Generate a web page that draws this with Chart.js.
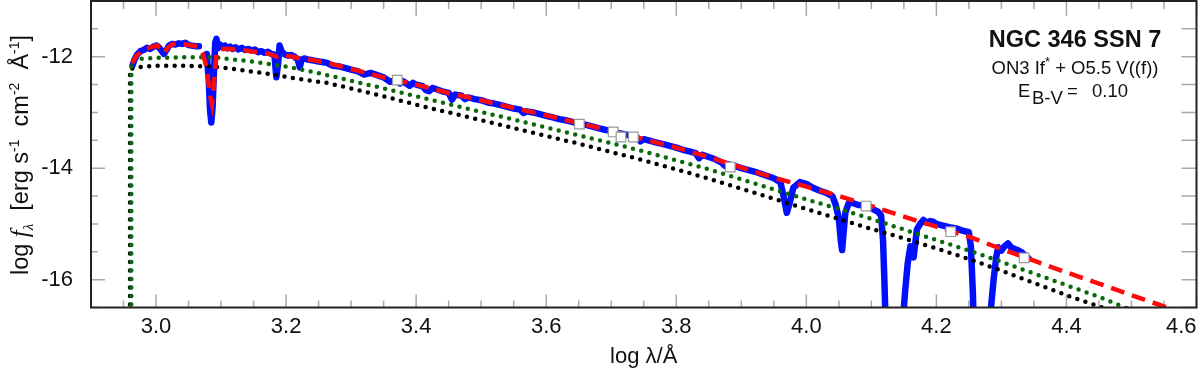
<!DOCTYPE html>
<html><head><meta charset="utf-8">
<script src="https://cdn.jsdelivr.net/npm/chart.js@4/dist/chart.umd.min.js"></script>
<style>html,body{margin:0;padding:0;background:#fff;}canvas{display:block;}</style>
</head><body>
<canvas id="c" width="1200" height="373"></canvas>
<script>
// ---------- tick labels ----------
const xMajorTicks = [3.0, 3.2, 3.4, 3.6, 3.8, 4.0, 4.2, 4.4, 4.6];
const xMinorTicks = [2.9, 2.95, 3.0, 3.05, 3.1, 3.15, 3.2, 3.25, 3.3, 3.35, 3.4, 3.45, 3.5, 3.55, 3.6, 3.65, 3.7, 3.75, 3.8, 3.85, 3.9, 3.95, 4.0, 4.05, 4.1, 4.15, 4.2, 4.25, 4.3, 4.35, 4.4, 4.45, 4.5, 4.55, 4.6];
const yMajorTicks = [-16, -14, -12];
const yMinorTicks = [-16.5, -16, -15.5, -15, -14.5, -14, -13.5, -13, -12.5, -12, -11.5, -11];

// ---------- observed spectrum (blue) ----------
const obsLogLam = [2.964,2.967,2.971,2.976,2.981,2.986,2.991,2.996,3.001,3.005,3.009,3.012,3.016,3.020,3.025,3.030,3.035,3.040,3.045,3.050,3.055,3.060,3.066,
 3.072,
 3.078,3.081,3.083,3.085,3.087,3.089,3.091,3.093,3.095,3.098,3.102,3.106,3.110,3.114,3.118,3.122,3.127,3.132,3.137,3.142,3.147,3.152,3.157,3.162,3.167,3.172,3.177,3.182,3.185,3.188,3.190,3.193,3.198,3.203,3.208,3.213,3.218,3.221,3.224,3.228,3.233,3.238,3.243,3.248,3.253,3.258,3.263,3.268,3.272,
 3.28,3.29,3.30,3.31,3.32,3.33,3.34,3.35,3.36,3.37,3.375,3.38,3.39,3.395,3.40,3.41,3.415,3.42,3.425,3.43,3.44,3.45,3.455,3.46,3.47,3.475,3.48,3.49,3.50,3.51,3.52,3.53,3.54,3.55,3.56,3.565,3.57,3.58,3.59,3.60,3.61,3.62,3.63,3.64,3.65,3.66,3.67,3.68,3.69,3.70,3.71,3.72,3.73,3.74,3.745,3.75,3.76,3.77,3.78,3.79,3.80,3.81,3.82,3.83,3.835,3.84,3.85,3.86,3.87,3.875,3.88,3.89,3.90,3.91,3.92,3.93,3.94,3.95,3.96,3.965,3.970,3.975,3.98,3.99,4.00,4.01,4.02,4.03,4.04,4.045,4.05,4.053,4.055,4.057,4.06,4.065,4.07,4.08,4.09,4.10,4.11,4.115,4.118,4.12,4.122,4.13,4.14,4.148,4.152,4.156,4.16,4.165,4.17,4.175,4.18,4.185,4.19,4.195,4.20,4.21,4.22,4.23,4.24,4.25,4.253,4.256,4.258,4.28,4.284,4.288,4.292,4.295,4.30,4.305,4.31,4.315,4.32,4.325,4.33,4.335,4.342];
const obsLogF = [-12.15,-12.05,-11.96,-11.90,-11.88,-11.84,-11.86,-11.82,-11.80,-11.84,-11.90,-11.95,-11.88,-11.80,-11.77,-11.78,-11.76,-11.77,-11.75,-11.79,-11.80,-11.81,-11.81,
 null,
 -11.95,-12.40,-12.95,-13.18,-12.90,-12.30,-11.75,-11.68,-11.85,-11.78,-11.82,-11.80,-11.85,-11.82,-11.86,-11.83,-11.87,-11.84,-11.88,-11.86,-11.89,-11.87,-11.92,-11.90,-11.93,-11.91,-11.95,-11.96,-12.37,-12.10,-11.80,-11.90,-11.96,-11.98,-11.97,-12.00,-12.05,-12.19,-12.05,-12.03,-12.05,-12.06,-12.07,-12.08,-12.09,-12.10,-12.11,-12.14,-12.16,
 -12.17,-12.20,-12.23,-12.26,-12.32,-12.29,-12.33,-12.37,-12.45,-12.41,-12.48,-12.44,-12.52,-12.47,-12.50,-12.53,-12.60,-12.62,-12.56,-12.58,-12.62,-12.65,-12.77,-12.68,-12.70,-12.76,-12.73,-12.76,-12.78,-12.82,-12.84,-12.87,-12.90,-12.93,-12.95,-13.01,-12.98,-13.00,-13.03,-13.06,-13.09,-13.12,-13.14,-13.17,-13.20,-13.22,-13.25,-13.28,-13.31,-13.33,-13.37,-13.39,-13.42,-13.45,-13.52,-13.48,-13.51,-13.54,-13.57,-13.60,-13.63,-13.67,-13.70,-13.73,-13.82,-13.76,-13.80,-13.84,-13.90,-13.96,-13.93,-13.96,-14.00,-14.03,-14.06,-14.10,-14.14,-14.18,-14.25,-14.50,-14.80,-14.60,-14.35,-14.25,-14.28,-14.35,-14.40,-14.44,-14.50,-14.65,-14.90,-15.30,-15.47,-15.20,-14.80,-14.63,-14.62,-14.66,-14.67,-14.72,-14.78,-14.85,-15.30,-16.00,-16.80,-17.00,-17.00,-16.80,-16.20,-15.70,-15.40,-15.60,-15.10,-15.00,-14.93,-14.98,-14.95,-14.96,-15.00,-15.03,-15.06,-15.08,-15.12,-15.15,-15.40,-16.20,-17.00,-17.00,-16.50,-16.00,-15.60,-15.42,-15.48,-15.40,-15.35,-15.42,-15.45,-15.47,-15.50,-15.55,-15.62];

// ---------- reddened model (red dashed) ----------
const modelLogLam = [2.963,2.970,2.978,2.986,2.995,3.002,3.008,3.012,3.018,3.026,3.035,3.045,3.055,3.065,3.072,3.078,3.083,3.086,3.089,3.093,3.100,3.115,3.130,3.145,3.160,3.175,3.186,3.195,3.210,3.225,3.240,3.255,3.270,3.300,3.350,3.400,3.450,3.500,3.550,3.600,3.650,3.700,3.750,3.800,3.850,3.900,3.950,4.000,4.050,4.100,4.150,4.200,4.250,4.300,4.350,4.400,4.450,4.500,4.555,4.560];
const modelLogF = [-12.12,-11.98,-11.90,-11.85,-11.82,-11.80,-11.86,-11.93,-11.84,-11.77,-11.76,-11.78,-11.80,-11.82,-11.95,-12.20,-12.70,-12.85,-12.50,-11.95,-11.86,-11.86,-11.88,-11.90,-11.93,-11.95,-12.00,-11.97,-12.00,-12.04,-12.06,-12.09,-12.13,-12.22,-12.37,-12.50,-12.65,-12.78,-12.92,-13.05,-13.19,-13.33,-13.48,-13.63,-13.80,-13.99,-14.17,-14.33,-14.50,-14.68,-14.87,-15.05,-15.23,-15.45,-15.66,-15.87,-16.07,-16.28,-16.50,-16.52];

// ---------- green dotted component ----------
const greenLogLam = [2.962,2.962,2.975,3.000,3.050,3.090,3.120,3.150,3.186,3.220,3.263,3.300,3.350,3.400,3.450,3.500,3.550,3.600,3.650,3.700,3.750,3.800,3.850,3.900,3.950,4.000,4.050,4.100,4.150,4.200,4.250,4.300,4.350,4.400,4.450,4.490,4.500];
const greenLogF = [-16.60,-12.06,-12.04,-12.02,-12.01,-12.01,-12.05,-12.09,-12.15,-12.22,-12.33,-12.43,-12.57,-12.71,-12.85,-12.99,-13.13,-13.27,-13.41,-13.55,-13.70,-13.86,-14.02,-14.20,-14.38,-14.56,-14.73,-14.91,-15.10,-15.29,-15.48,-15.68,-15.89,-16.10,-16.31,-16.50,-16.55];

// ---------- black dotted component ----------
const blackLogLam = [2.960,2.960,2.970,2.990,3.010,3.040,3.070,3.090,3.120,3.150,3.186,3.220,3.263,3.300,3.350,3.400,3.450,3.500,3.550,3.600,3.650,3.700,3.750,3.800,3.850,3.900,3.950,4.000,4.050,4.100,4.150,4.200,4.250,4.300,4.350,4.400,4.455,4.460];
const blackLogF = [-16.60,-12.22,-12.19,-12.17,-12.16,-12.16,-12.17,-12.18,-12.22,-12.27,-12.33,-12.40,-12.47,-12.57,-12.71,-12.86,-13.00,-13.14,-13.28,-13.42,-13.56,-13.71,-13.86,-14.02,-14.19,-14.37,-14.55,-14.73,-14.91,-15.09,-15.26,-15.44,-15.63,-15.84,-16.06,-16.28,-16.50,-16.53];

// ---------- photometry (squares) ----------
const photLogLam = [3.371, 3.651, 3.703, 3.715, 3.734, 3.883, 4.092, 4.222, 4.335];
const photLogF = [-12.42, -13.21, -13.35, -13.44, -13.44, -13.98, -14.68, -15.14, -15.61];

const pts = (xs, ys) => xs.map((x, i) => ({x: x, y: ys[i]}));
const SANS = '"Liberation Sans", Arial, Helvetica, sans-serif';

const inwardTicks = {
  id: 'inwardTicks',
  beforeDatasetsDraw(chart) {
    const {ctx, chartArea: a, scales: {x, y}} = chart;
    ctx.save();
    ctx.strokeStyle = '#a9a9a9';
    ctx.lineWidth = 1.5;
    ctx.beginPath();
    xMinorTicks.forEach(v => {
      const p = x.getPixelForValue(v);
      const major = xMajorTicks.some(m => Math.abs(m - v) < 1e-6);
      ctx.moveTo(p, a.bottom); ctx.lineTo(p, a.bottom - (major ? 13 : 7));
      ctx.moveTo(p, a.top); ctx.lineTo(p, a.top + (major ? 15 : 8));
    });
    yMinorTicks.forEach(v => {
      const p = y.getPixelForValue(v);
      const major = yMajorTicks.some(m => Math.abs(m - v) < 1e-6);
      ctx.moveTo(a.left, p); ctx.lineTo(a.left + (major ? 14 : 7), p);
      ctx.moveTo(a.right, p); ctx.lineTo(a.right - 15, p);
    });
    ctx.stroke();
    ctx.restore();
  },
  afterDraw(chart) {
    const {ctx, chartArea: a} = chart;
    ctx.save();
    ctx.strokeStyle = '#222';
    ctx.lineWidth = 2;
    ctx.strokeRect(a.left, a.top, a.right - a.left, a.bottom - a.top);
    ctx.restore();
  }
};

function drawRich(ctx, segs, cx, cy, rotate, align) {
  ctx.save();
  ctx.translate(cx, cy);
  if (rotate) ctx.rotate(-Math.PI / 2);
  let w = 0;
  segs.forEach(s => { ctx.font = s.font; s.w = ctx.measureText(s.t).width; w += s.w; });
  let xx = align === 'center' ? -w / 2 : 0;
  ctx.textBaseline = 'alphabetic';
  ctx.textAlign = 'left';
  ctx.fillStyle = '#111';
  segs.forEach(s => { ctx.font = s.font; ctx.fillText(s.t, xx, s.dy || 0); xx += s.w; });
  ctx.restore();
}

const textPlugin = {
  id: 'textPlugin',
  afterDraw(chart) {
    const ctx = chart.ctx;
    const F = '23.5px ' + SANS, S = '14px ' + SANS;
    drawRich(ctx, [
      {t: 'log ', font: F},
      {t: 'f', font: 'italic 25px "Liberation Serif", serif'},
      {t: 'λ', font: 'italic 15px "Liberation Serif", serif', dy: 5},
      {t: '  [erg s', font: F},
      {t: '-1', font: S, dy: -9},
      {t: '  cm', font: F},
      {t: '-2', font: S, dy: -9},
      {t: '  Å', font: F},
      {t: '-1', font: S, dy: -9},
      {t: ']', font: F}
    ], 28, 155, true, 'center');

    drawRich(ctx, [{t: 'NGC 346 SSN 7', font: 'bold 23.5px ' + SANS}], 1075, 47, false, 'center');
    drawRich(ctx, [
      {t: 'ON3 If', font: '18.5px ' + SANS},
      {t: '*', font: '13px ' + SANS, dy: -8},
      {t: ' + O5.5 V((f))', font: '18.5px ' + SANS}
    ], 1075, 74, false, 'center');
    ctx.save();
    ctx.fillStyle = '#111';
    ctx.textBaseline = 'alphabetic';
    ctx.textAlign = 'left';
    ctx.font = '18.5px ' + SANS;
    ctx.fillText('E', 1018, 97);
    ctx.fillText('B-V', 1032, 104);
    ctx.fillText('=', 1067, 97);
    ctx.fillText('0.10', 1092, 97);
    ctx.restore();
  }
};

new Chart(document.getElementById('c'), {
  type: 'line',
  data: {
    datasets: [
      {label: 'observed', data: pts(obsLogLam, obsLogF), borderColor: '#0010ff', borderWidth: 6.5, pointRadius: 0, borderJoinStyle: 'round', borderCapStyle: 'round', spanGaps: false, clip: 0, order: 5},
      {label: 'black', data: pts(blackLogLam, blackLogF), borderColor: '#000', borderWidth: 4.5, borderDash: [0, 8.5], borderCapStyle: 'round', pointRadius: 0, clip: 0, order: 4},
      {label: 'green', data: pts(greenLogLam, greenLogF), borderColor: '#0a6a0a', borderWidth: 4.5, borderDash: [0, 8.5], borderCapStyle: 'round', pointRadius: 0, clip: 0, order: 3},
      {label: 'model', data: pts(modelLogLam, modelLogF), borderColor: '#ff0a0a', borderWidth: 4.5, borderDash: [14, 8], pointRadius: 0, clip: 0, order: 2},
      {label: 'phot', data: pts(photLogLam, photLogF), showLine: false, pointStyle: 'rect', pointRadius: 6.8, pointBackgroundColor: '#fff', pointBorderColor: '#999', pointBorderWidth: 1.2, clip: 0, order: 1}
    ]
  },
  options: {
    responsive: false,
    animation: false,
    devicePixelRatio: 1,
    layout: {autoPadding: false, padding: {top: 1, right: 3.5, left: 0, bottom: 0}},
    plugins: {legend: {display: false}, tooltip: {enabled: false}},
    elements: {line: {tension: 0}},
    scales: {
      x: {
        type: 'linear', min: 2.9, max: 4.6,
        afterBuildTicks: s => { s.ticks = xMajorTicks.map(v => ({value: v})); },
        afterFit: s => { s.height = 65.5; s.paddingLeft = 0; s.paddingRight = 0; },
        ticks: {autoSkip: false, maxRotation: 0, padding: 6, color: '#111', font: {family: SANS, size: 22},
          callback: v => (Math.abs(v - 4.6) < 1e-6 ? '4.6     ' : Number(v).toFixed(1))},
        grid: {display: false, drawTicks: false},
        border: {display: false},
        title: {display: true, text: 'log λ/Å', color: '#111', font: {family: SANS, size: 22, lineHeight: 1}, padding: {top: 0, bottom: 5}}
      },
      y: {
        type: 'linear', min: -16.5, max: -11,
        afterBuildTicks: s => { s.ticks = yMinorTicks.map(v => ({value: v})); },
        afterFit: s => { s.width = 91; s.paddingTop = 0; s.paddingBottom = 0; },
        ticks: {autoSkip: false, padding: 18, color: '#111', font: {family: SANS, size: 22},
          callback: v => (yMajorTicks.some(m => Math.abs(m - v) < 1e-6) ? String(v) : '')},
        grid: {display: false, drawTicks: false},
        border: {display: false}
      }
    }
  },
  plugins: [inwardTicks, textPlugin]
});
</script>
</body></html>
